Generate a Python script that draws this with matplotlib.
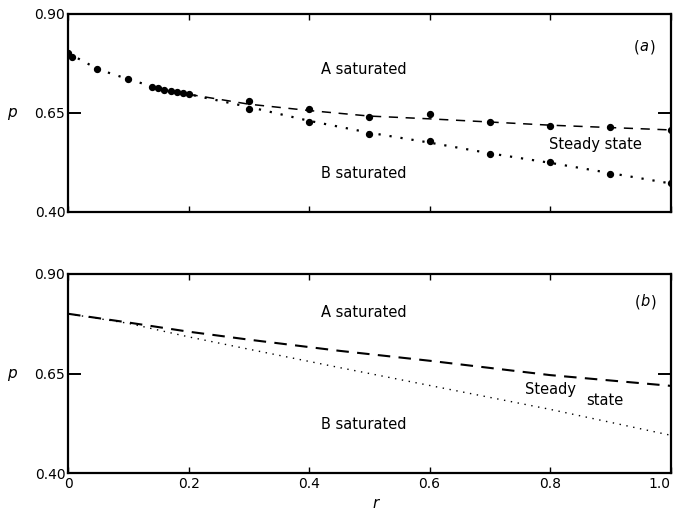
import matplotlib
matplotlib.use('Agg')
import matplotlib.pyplot as plt

# ----- panel (a): simulation points -----
r_sim = [0.0, 0.006, 0.048, 0.10, 0.14, 0.15, 0.16, 0.17, 0.18, 0.19, 0.20,
         0.30, 0.30, 0.40, 0.40, 0.50, 0.50, 0.60, 0.60, 0.70, 0.70,
         0.80, 0.80, 0.90, 0.90, 1.00, 1.00]
p_sim = [0.800, 0.792, 0.761, 0.735, 0.716, 0.712, 0.709, 0.706, 0.703, 0.700, 0.697,
         0.680, 0.659, 0.659, 0.628, 0.639, 0.597, 0.647, 0.578, 0.626, 0.546,
         0.617, 0.525, 0.614, 0.496, 0.607, 0.472]

# boundary curves in (a)
r_a_low = [0.0, 0.05, 0.10, 0.15, 0.20, 0.30, 0.40, 0.50, 0.60, 0.70, 0.80, 0.90, 1.00]
p_a_low = [0.801, 0.760, 0.735, 0.712, 0.697, 0.665, 0.630, 0.600, 0.575, 0.548, 0.524, 0.498, 0.472]
r_a_up = [0.20, 0.30, 0.40, 0.50, 0.60, 0.70, 0.80, 0.90, 1.00]
p_a_up = [0.697, 0.672, 0.656, 0.642, 0.635, 0.627, 0.619, 0.613, 0.607]

# ----- panel (b): theory curves -----
r_b = [0.0, 0.1, 0.2, 0.3, 0.45, 0.6, 0.8, 1.0]
p_b_up = [0.800, 0.778, 0.755, 0.735, 0.707, 0.682, 0.646, 0.619]
p_b_low = [0.800, 0.776, 0.742, 0.711, 0.665, 0.620, 0.560, 0.495]

xticks = [0, 0.2, 0.4, 0.6, 0.8, 1.0]
xticklabels = ['0', '0.2', '0.4', '0.6', '0.8', '1.0']
yticks = [0.40, 0.65, 0.90]
yticklabels = ['0.40', '0.65', '0.90']

plt.rcParams['font.family'] = 'DejaVu Sans'

fig = plt.figure(figsize=(6.74, 5.12), dpi=100)
ax_a = fig.add_axes([0.101, 0.586, 0.894, 0.387])
ax_b = fig.add_axes([0.101, 0.076, 0.894, 0.389])


def style_axes(ax, show_xlabels):
    ax.set_xlim(0, 1.0)
    ax.set_ylim(0.40, 0.90)
    for s in ax.spines.values():
        s.set_linewidth(1.6)
    ax.set_xticks(xticks)
    ax.set_xticklabels(xticklabels if show_xlabels else [])
    ax.set_yticks(yticks)
    ax.set_yticklabels(yticklabels)
    ax.tick_params(axis='x', direction='in', length=4, width=1, top=True,
                   labelsize=10, pad=3)
    ax.tick_params(axis='y', direction='in', length=0, labelsize=10, pad=2)
    # long inward tick at p = 0.65 on both sides
    ax.plot([0, 0.02], [0.65, 0.65], color='black', lw=1.4, clip_on=False)
    ax.plot([0.98, 1.0], [0.65, 0.65], color='black', lw=1.4, clip_on=False)
    ax.set_ylabel('p', style='italic', fontsize=11, rotation=0, labelpad=16,
                  va='center')


# panel (a)
ax_a.plot(r_a_low, p_a_low, color='black', lw=1.6, linestyle=(0, (1, 4)))
ax_a.plot(r_a_up, p_a_up, color='black', lw=1.1, linestyle=(0, (6, 5)))
ax_a.scatter(r_sim, p_sim, s=18, color='black', zorder=3)
style_axes(ax_a, False)
ax_a.text(0.49, 0.759, 'A saturated', ha='center', va='center', fontsize=10.5)
ax_a.text(0.49, 0.498, 'B saturated', ha='center', va='center', fontsize=10.5)
ax_a.text(0.875, 0.569, 'Steady state', ha='center', va='center', fontsize=10.5)
ax_a.text(0.948, 0.817, '(', ha='right', va='center', fontsize=10.5)
ax_a.text(0.948, 0.817, 'a', ha='left', va='center', fontsize=10.5, style='italic')
ax_a.text(0.965, 0.817, ')', ha='left', va='center', fontsize=10.5)

# panel (b)
ax_b.plot(r_b, p_b_up, color='black', lw=1.5, linestyle=(0, (6, 4)))
ax_b.plot(r_b, p_b_low, color='black', lw=1.0, linestyle=(0, (1, 4)))
style_axes(ax_b, True)
ax_b.get_xticklabels()[-1].set_horizontalalignment('right')
ax_b.text(0.49, 0.802, 'A saturated', ha='center', va='center', fontsize=10.5)
ax_b.text(0.49, 0.521, 'B saturated', ha='center', va='center', fontsize=10.5)
ax_b.text(0.80, 0.610, 'Steady', ha='center', va='center', fontsize=10.5)
ax_b.text(0.89, 0.583, 'state', ha='center', va='center', fontsize=10.5)
ax_b.text(0.950, 0.830, '(', ha='right', va='center', fontsize=10.5)
ax_b.text(0.950, 0.830, 'b', ha='left', va='center', fontsize=10.5, style='italic')
ax_b.text(0.968, 0.830, ')', ha='left', va='center', fontsize=10.5)
ax_b.set_xlabel('r', style='italic', fontsize=11)
ax_b.xaxis.set_label_coords(0.51, -0.115)

fig.savefig('out.png', dpi=100)
